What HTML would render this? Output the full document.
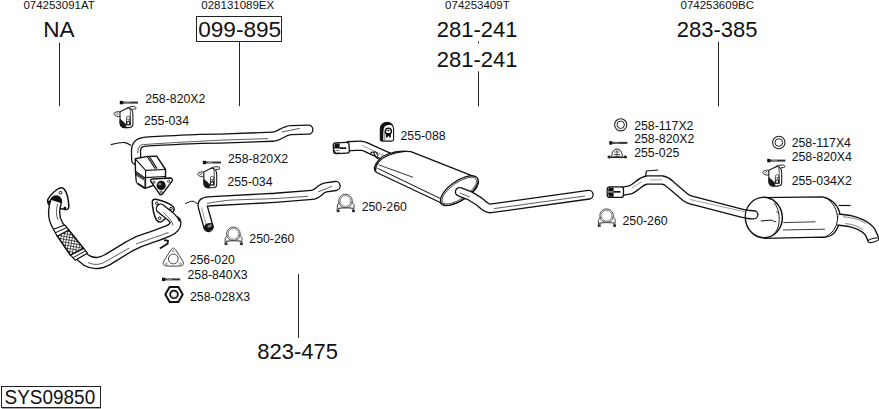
<!DOCTYPE html>
<html><head><meta charset="utf-8">
<style>
html,body{margin:0;padding:0;background:#fff;}
body{width:879px;height:409px;overflow:hidden;position:relative;}
svg{position:absolute;left:0;top:0;}
text{font-family:"Liberation Sans",sans-serif;fill:#111;}
.s{font-size:11.5px;}
.m{font-size:12.3px;}
.b{font-size:22px;}
</style></head><body>
<svg width="879" height="409" viewBox="0 0 879 409">
<defs>
<pattern id="hatch" width="2.8" height="2.8" patternUnits="userSpaceOnUse" patternTransform="rotate(10)">
<rect width="2.8" height="2.8" fill="#fff"/>
<line x1="0" y1="0" x2="0" y2="2.8" stroke="#111" stroke-width="1.3"/>
<line x1="0" y1="0" x2="2.8" y2="0" stroke="#111" stroke-width="1.3"/>
</pattern>
<g id="clamp" fill="none" stroke="#333" stroke-width="0.9">
<circle cx="9.4" cy="7" r="6.8" stroke-width="0.9"/>
<circle cx="9.4" cy="7" r="5.3" stroke-width="0.7" stroke="#555"/>
<path d="M3.6,8.8 C2.2,9.3 1.2,10.5 1.2,12 L1.2,16.8 M15.4,8.4 C16.8,8.8 18,10 18,11.5 L17.6,16.8 M1.8,14.8 C6,13.6 13,13.6 17.4,14.6"/>
<path d="M2,14.2 C6,13 13,13 17,14" stroke-width="0.6" stroke="#666"/>
<rect x="0.6" y="15.6" width="2.9" height="2.6" fill="#333" stroke="none"/>
<rect x="15.9" y="15.6" width="2.9" height="2.6" fill="#333" stroke="none"/>
</g>
<g id="bolt">
<rect x="0" y="-1.7" width="3.2" height="3.4" fill="#111"/>
<rect x="3" y="-1" width="15.2" height="2" fill="#333"/>
<rect x="5" y="-0.5" width="5" height="1" fill="#888"/>
</g>
<g id="hanger" fill="none" stroke="#1a1a1a" stroke-width="0.9" stroke-linejoin="round">
<path d="M3.4,11 C4.8,9 8,8.3 10.2,9.3 L10.2,13.6 C7.5,14.3 4.6,13.2 3.4,11 Z" fill="#fff"/>
<path d="M5.5,10.8 L7.5,11.8 M7,10 L8.2,10.6" stroke-width="0.7"/>
<path d="M9.8,9 L16.5,5.6 C18.5,4.6 20.8,6 21.8,7.5 C22.6,8.8 22.7,10 22.7,12 L22.7,21.5 C22.7,23.5 21,24.8 18.5,24.8 L14,24.8 C11.5,24.6 10,22.8 9.9,20.5 Z" fill="#fff" stroke-width="1.1"/>
<path d="M16.5,5.6 C18,4.3 21,3.6 23.5,3.7 C25,3.8 26.2,4.6 25.8,5.6 C25.3,6.5 23.5,6.4 22,6.4" stroke-width="1"/>
<path d="M19.8,6.2 C20.3,8 20.2,10 20.2,12 L20.2,22.5" stroke-width="0.8"/>
<path d="M9.9,16.5 L9.9,20.5 C10,22.8 11.5,24.6 14,24.8 L15.6,24.8 L15.6,21.5 C14,20 12,18 9.9,16.5 Z" fill="#1a1a1a"/>
<path d="M16.4,22.8 L16.4,15 C16.4,13.8 17.2,13.4 18.1,13.4 C19,13.4 19.9,13.8 19.9,15 L19.9,22.8" stroke-width="0.8"/>
<circle cx="18.1" cy="20.4" r="1.7" stroke-width="1.2"/>
<path d="M17,16 L18.5,17.5 L19.2,15.5" stroke-width="0.7"/>
</g>
<path id="fp" d="M56,201.5 C53.5,209 53,218 58,226 L78,252 C83,259 89,263.5 97,263 C101,262.9 104,261.5 108,259.4 L129.3,246.3 C136,242.5 142,240 149,238 L158.7,234.6 L168,231 C173.5,228.8 175.8,225.5 175.2,222.2"/>
<path id="fp2" d="M175.4,224.5 C175.4,220.5 171.5,216.8 167,213.6 L160.8,208.6"/>
<path id="tp" d="M136.2,160 L136,152 C135.8,145 139,142 146,141.6 C160,140.6 180,139.8 200,138.9 L220,138.6 L273,136.7 C280,136.3 283,130.6 291,130.1 L308.3,129.6"/>
<path id="sp" d="M208.5,227 L203,207.5 C201.5,202 205,201.5 212,201.2 L275,197.8 L312,194.9 C318,194.4 320,188.2 326,187.4 L335.6,186"/>
<path id="mp" d="M347,146.3 L360,145.6 C364,145.6 366,147 370,149 L390,158"/>
<path id="mt" d="M459.8,191.9 L469.5,195.6 L479.3,201.6 C483.5,205 486,208.6 490.5,208.4 L588.8,194.7"/>
<path id="rp" d="M622,191.4 L630,189.9 C636,188 640,181 647,180 L662.4,180 C666,180.5 668,182 671,185 L685,197 C688,199.5 690,200 694,200.8 L742,213.2 C747,214.4 750,214.8 753.8,214.8"/>
<path id="ri" d="M728,210 L743.7,215.8 L755.5,215.8"/>
<path id="tl" d="M838,219.5 L849.7,221 C854,222 857,223 860.5,224.6 C865,226.8 868,229 870,232 L873.6,239.5"/>
<clipPath id="capclip"><ellipse cx="763.8" cy="217.5" rx="18" ry="19.6" transform="rotate(-5 763.8 217.5)"/></clipPath>
</defs>

<g id="texts">
<text class="s" x="23.4" y="8.7">074253091AT</text>
<text class="s" x="201.3" y="8.7">028131089EX</text>
<text class="s" x="445.1" y="8.7">074253409T</text>
<text class="s" x="680.5" y="8.7">074253609BC</text>
<text class="b" x="43.3" y="36.8" style="font-size:22.6px">NA</text>
<text class="b" x="198.2" y="36.6" textLength="83" lengthAdjust="spacingAndGlyphs">099-895</text>
<text class="b" x="436.8" y="36.9">281-241</text>
<text class="b" x="436.8" y="66.5">281-241</text>
<text class="b" x="676.8" y="36.9">283-385</text>
<text class="b" x="257.2" y="358.9">823-475</text>
<text class="m" x="145.2" y="102.7">258-820X2</text>
<text class="m" x="143.9" y="125.3">255-034</text>
<text class="m" x="228" y="162.5">258-820X2</text>
<text class="m" x="227.4" y="186">255-034</text>
<text class="m" x="189.7" y="264">256-020</text>
<text class="m" x="187.5" y="279">258-840X3</text>
<text class="m" x="190" y="300.7">258-028X3</text>
<text class="m" x="249.3" y="242.8">250-260</text>
<text class="m" x="361.7" y="210.6">250-260</text>
<text class="m" x="400.5" y="139.8">255-088</text>
<text class="m" x="634.2" y="129.5">258-117X2</text>
<text class="m" x="634.2" y="143.3">258-820X2</text>
<text class="m" x="634.2" y="156.8">255-025</text>
<text class="m" x="791.7" y="146.9">258-117X4</text>
<text class="m" x="791.7" y="161">258-820X4</text>
<text class="m" x="791.7" y="184.6">255-034X2</text>
<text class="m" x="622.5" y="225.1">250-260</text>
<text style="font-size:19.6px" x="4.6" y="404" textLength="90.6" lengthAdjust="spacingAndGlyphs">SYS09850</text>
</g>
<g fill="none" stroke="#222" stroke-width="1">
<rect x="196.5" y="16.5" width="85" height="25"/>
<rect x="1.5" y="386.5" width="99" height="21"/>
<line x1="2" y1="408.5" x2="101" y2="408.5" stroke="#aaa"/>
<line x1="59.5" y1="42.7" x2="59.5" y2="106.2"/>
<line x1="239.5" y1="41.2" x2="239.5" y2="106.2"/>
<line x1="478.5" y1="71.3" x2="478.5" y2="106.3"/>
<line x1="718.5" y1="41.7" x2="718.5" y2="106.3"/>
<line x1="298.5" y1="274" x2="298.5" y2="338"/>
<line x1="478.5" y1="41.5" x2="478.5" y2="43.5"/>
</g>

<!-- ================= PIPES ================= -->
<g fill="none" stroke-linejoin="round">
<!-- front pipe -->
<!-- left flange -->
<path d="M47.6,201.5 C47,199 52,193 57,189.5 C60,187.5 63,187.5 64.5,189.5 C67,193 68.5,200 68.8,206 C69,208.8 67.5,210 65,209.5 L52,206.5 C49.2,205.6 47.9,203.8 47.6,201.5 Z" fill="#fff" stroke="#111" stroke-width="1.5"/>
<circle cx="60.5" cy="192.7" r="1.4" fill="#fff" stroke="#111" stroke-width="1"/>
<!-- right flange -->
<path d="M152.3,201.5 C152.5,199.5 154.5,199 157,199.6 C163,201 169,203.5 172.5,206 C174.8,207.8 174.5,210 173,211.8 L162.5,221 C160.5,222.5 158.2,222.2 156.5,220 C154,216 152.2,207 152.3,201.5 Z" fill="#fff" stroke="#111" stroke-width="1.5"/>
<circle cx="156.8" cy="203.3" r="1.3" fill="#fff" stroke="#111" stroke-width="1"/>
<circle cx="171" cy="208.6" r="1.3" fill="#fff" stroke="#111" stroke-width="1"/>
<use href="#fp" stroke="#111" stroke-width="12.4" stroke-linecap="round"/>
<use href="#fp2" stroke="#111" stroke-width="10.2" stroke-linecap="round"/>
<use href="#fp" stroke="#fff" stroke-width="9.7" stroke-linecap="butt"/>
<use href="#fp2" stroke="#fff" stroke-width="7.6" stroke-linecap="round"/>
<circle cx="49.2" cy="202" r="1.4" fill="#111"/>
<circle cx="64.9" cy="208.1" r="1.4" fill="#111"/>
<circle cx="159.7" cy="218.2" r="1.3" fill="#fff" stroke="#111" stroke-width="1"/>
<path d="M88,262.5 C93,265 99,265 104,262.5 L129.3,248 M136.2,244 C145,240.5 155,237.5 168.5,232.5 M172.8,225.5 C172.8,222 169,218 163.5,212.5 M57.5,204 C56,210 56,216 58,220" stroke="#333" stroke-width="0.8"/>
<!-- flex -->
<path d="M57.3,236.1 L68.6,229.8 L83.7,248.4 L70.5,255.2 Z" fill="url(#hatch)" stroke="#111" stroke-width="1.6"/>
<path d="M53.5,229.3 L64.7,225 L68.8,230 L57.2,236.3 Z" fill="#fff" stroke="#111" stroke-width="1.2"/>
<path d="M55.2,232.8 L66.8,227.6" stroke="#111" stroke-width="1"/>
<path d="M70.5,255.2 L83.7,248.4 L87.4,253.2 L75.2,260.2 Z" fill="#fff" stroke="#111" stroke-width="1.2"/>
<path d="M72.8,257.8 L85.5,250.8" stroke="#111" stroke-width="1"/>
<path d="M164,240.2 L168,240.6 L167.6,243.8 L159.8,248.6" stroke="#111" stroke-width="1.8"/>

<!-- top pipe 099-895 -->
<use href="#tp" stroke="#111" stroke-width="10.4" stroke-linecap="round"/>
<use href="#tp" stroke="#fff" stroke-width="7.8" stroke-linecap="round"/>
<path d="M137.8,153 C137.8,148 139.5,145 143.5,144.2" stroke="#222" stroke-width="0.8"/>
<path d="M143.5,144.6 C160,143.3 190,141.8 220,140.2 L268,138.6 M282,132 L300,128.3" stroke="#333" stroke-width="0.8"/>
<path d="M110.8,144.6 C116,143.3 122,142.2 125,142.6 C127.5,143 129,144 131,145.5" stroke="#111" stroke-width="1.1"/>
<!-- cat converter -->
<path d="M135.2,158.8 L147.8,156.4 L156.6,156.1 L165.5,169.5 L165.5,179 L152,186 L145.2,188.3 L136.5,182.5 L135.5,172 Z" fill="#fff" stroke="#111" stroke-width="1.4"/>
<path d="M135.2,158.8 L145.6,170.4 L165.5,169.5 M145.6,170.4 L145.6,188 M147.3,156.6 L155.2,168.8 M149.2,156.4 L157,168.6 M135.6,171.5 L144.8,177.6 L165,176.5 M136,173.5 L144.8,179.2" stroke="#111" stroke-width="1.1"/>
<path d="M136.5,182.5 L144.8,187.8 L144.8,180.5 L136,175 Z" fill="#fff" stroke="#111" stroke-width="0.8"/>
<path d="M137.5,183.5 L144.5,188" stroke="#111" stroke-width="1.6"/>
<path d="M150.6,181 C150.2,179.6 151.3,179 152.8,179 L170,178 C172.2,178 173,179.6 172,181.2 L162.8,193.6 C161.6,195.2 159.8,195 159.2,193.4 Z" fill="#fff" stroke="#111" stroke-width="1.4"/>
<circle cx="161.2" cy="185.4" r="4.6" fill="#111"/>
<circle cx="159.8" cy="184.2" r="1.4" fill="#888"/>
<circle cx="154" cy="182.3" r="1.1" fill="none" stroke="#111" stroke-width="0.8"/>
<circle cx="168.6" cy="181.3" r="1.1" fill="none" stroke="#111" stroke-width="0.8"/>
<circle cx="161.2" cy="192" r="1.1" fill="none" stroke="#111" stroke-width="0.8"/>

<!-- second pipe -->
<use href="#sp" stroke="#111" stroke-width="10.4" stroke-linecap="round"/>
<use href="#sp" stroke="#fff" stroke-width="7.8" stroke-linecap="round"/>
<path d="M207,203.5 C212,202.5 220,201 232,200 L275,198.6 L308,196.3 M318,192 L332,186.3" stroke="#333" stroke-width="0.8"/><path d="M201.6,207.5 L206.5,226" stroke="#555" stroke-width="0.6"/>
<ellipse cx="208.7" cy="227" rx="5" ry="3.8" transform="rotate(-25 208.7 227)" fill="#111"/>
<ellipse cx="209.5" cy="226" rx="2.5" ry="1.5" transform="rotate(-25 209.5 226)" fill="#888"/>
<path d="M185,203.7 C188,202.5 191,200.8 193,201.2 C195,202 196.5,204 199,203.5" stroke="#111" stroke-width="1"/>

<!-- middle inlet pipe -->
<use href="#mp" stroke="#111" stroke-width="10.4"/>
<use href="#mp" stroke="#fff" stroke-width="7.8"/>
<path d="M362,145.5 L385,156" stroke="#777" stroke-width="0.7"/>
<rect x="333.4" y="142.6" width="15.8" height="10.8" rx="2.5" fill="#fff" stroke="#111" stroke-width="1.3" transform="rotate(-3 341 148)"/>
<path d="M335.2,143.6 L339.6,143.4 L339.6,148.4 L334.2,148.6 C334.2,146.6 334.5,145 335.2,143.6 Z" fill="#111"/>
<path d="M334.4,150 C334.6,151.5 335,152.5 335.6,153.2 L339.6,153" stroke="#111" stroke-width="1.1"/>
<path d="M336,150.6 L339.5,150.5" stroke="#444" stroke-width="0.8"/>
<rect x="339.6" y="147.3" width="6.6" height="1.7" fill="#111"/>
<path d="M370.8,153.8 C371,152 372.5,151.6 373.6,152.4 L375,155.5 C375.8,157.5 376.8,158.3 378,158.6 M373.6,152.4 C374.8,151.5 376.5,152 377,153.5 L378.2,156" stroke="#111" stroke-width="1.2"/>
<!-- middle muffler -->
<path d="M374.4,167.4 C377,160 382,156 388,154 C394,151.5 402,150.2 410.9,151.7 L470.5,175.2 C476,177.5 479,180 478.3,183 C477,192 460,204 447.1,205.5 C444,205.8 441.5,204.5 440.2,202.5 L376.7,172.5 C375,171.5 374.2,169.5 374.4,167.4 Z" fill="#fff" stroke="#111" stroke-width="1.3"/>
<path d="M375.6,170.5 C375.2,164 381,158.5 389,155 C395,152.5 400,151.6 405,151.3" stroke="#111" stroke-width="1.3"/>
<path d="M378.6,164.8 L413,177.3" stroke="#222" stroke-width="0.9"/>
<path d="M377.6,168.3 L440.5,198.6" stroke="#111" stroke-width="1"/>
<ellipse cx="459.3" cy="190.6" rx="22" ry="9.5" transform="rotate(-35 459.3 190.6)" fill="#fff" stroke="#111" stroke-width="1.3"/>
<ellipse cx="459.3" cy="190.6" rx="20.3" ry="8" transform="rotate(-35 459.3 190.6)" fill="none" stroke="#111" stroke-width="0.7"/>
<!-- middle tail pipe -->
<use href="#mt" stroke="#111" stroke-width="10" stroke-linecap="round"/>
<use href="#mt" stroke="#fff" stroke-width="7.4" stroke-linecap="round"/>
<path d="M459.8,192.9 L470,197.2 M494,208.6 L585,196" stroke="#333" stroke-width="0.8"/>

<!-- rear inlet -->
<use href="#rp" stroke="#111" stroke-width="9.4" stroke-linecap="round"/>
<use href="#rp" stroke="#fff" stroke-width="6.8" stroke-linecap="round"/>
<path d="M632,188 L642,181.5 M650,179.8 L662,179.8 M690,199.5 L750,213" stroke="#777" stroke-width="0.7"/>
<rect x="607.2" y="186.8" width="16.3" height="10.6" rx="2.5" fill="#fff" stroke="#111" stroke-width="1.3"/>
<path d="M609,187.5 L613.6,187.5 L613.6,196.7 L609,196.7 C607.7,194 607.7,190 609,187.5 Z" fill="#111"/>
<rect x="607.6" y="191.3" width="6" height="1.2" fill="#bbb"/>
<rect x="613.6" y="191" width="6.8" height="1.7" fill="#111"/>
<path d="M645.5,177 L646.4,171 L658.2,170" stroke="#111" stroke-width="1.2"/>

<!-- rear muffler -->
<path d="M762.5,197.6 L822.4,196.8 C830,198 837,204 839.5,212 C841,221 838,231 831,235.5 C828,237 825,237.4 822.4,237.2 L764.2,238.4 Z" fill="#fff" stroke="#111" stroke-width="1.3"/>
<path d="M825,197.5 C833,201 837.5,211 837.5,218 C837.5,227 832,234 825,237" stroke="#111" stroke-width="1"/>
<ellipse cx="763.8" cy="217.5" rx="18.5" ry="20.2" transform="rotate(-5 763.8 217.5)" fill="#fff" stroke="#111" stroke-width="1.4"/>
<path d="M774.2,203 C778.5,208 779.6,215 779.1,222 C778.6,228 776.3,232.5 772.3,235.3" stroke="#111" stroke-width="0.9"/>
<path d="M776.5,211 L779,214" stroke="#111" stroke-width="0.8"/>
<path d="M783.5,222.6 L815.5,221.8 M783,230 L825,229.2" stroke="#222" stroke-width="0.9"/>
<path d="M760.8,221 L771,220.1 C773,220.5 774,221.8 776.2,221.8" stroke="#111" stroke-width="1"/>
<path d="M838.6,205.5 L850.6,205.5" stroke="#111" stroke-width="1.2"/>
<g clip-path="url(#capclip)">
<use href="#rp" stroke="#111" stroke-width="9.4" stroke-linecap="round"/>
<use href="#rp" stroke="#fff" stroke-width="6.8" stroke-linecap="round"/>
</g>
<!-- tail -->
<use href="#tl" stroke="#111" stroke-width="12.4"/>
<use href="#tl" stroke="#fff" stroke-width="9.8"/>
<path d="M843,216.8 L850,217.6 C856,218.6 861,220.5 866,223.5 M845,223.5 L850,224.2 C855,225.2 859,227 863,230" stroke="#555" stroke-width="0.7"/>
<ellipse cx="873.4" cy="240.2" rx="5.6" ry="1.8" transform="rotate(-15 873.4 240.2)" fill="#fff" stroke="#111" stroke-width="1.1"/>
</g>

<!-- ================= SMALL PARTS ================= -->
<use href="#bolt" x="119.8" y="102.6"/>
<use href="#hanger" x="110.2" y="102.8"/>
<use href="#bolt" x="202.8" y="162.5"/>
<use href="#hanger" x="194" y="163"/>
<use href="#bolt" x="162" y="279.4"/>
<use href="#bolt" x="609.2" y="142.9"/>
<use href="#bolt" x="767.2" y="160.6"/>
<use href="#hanger" x="759" y="161.3"/>
<use href="#clamp" x="224" y="226.9"/>
<use href="#clamp" x="336.1" y="194"/>
<use href="#clamp" x="597.2" y="208.7"/>
<!-- gasket -->
<g transform="translate(0,1.4)">
<path d="M171.3,248 C172.5,246.3 174.3,246.3 175.4,248 C178,252 181,256.5 183.2,260.5 C184.2,262.6 183,264.4 180.8,264.5 C175.8,264.9 170.8,264.9 165.8,264.5 C163.6,264.4 162.5,262.6 163.5,260.5 C165.6,256.3 168.6,252 171.3,248 Z" fill="#fff" stroke="#444" stroke-width="1"/>
<circle cx="173.3" cy="257.6" r="4.9" fill="#fff" stroke="#444" stroke-width="1"/>
<circle cx="173.3" cy="249.3" r="0.9" fill="none" stroke="#555" stroke-width="0.6"/>
<circle cx="166.4" cy="262.5" r="0.9" fill="none" stroke="#555" stroke-width="0.6"/>
<circle cx="180.3" cy="262.5" r="0.9" fill="none" stroke="#555" stroke-width="0.6"/>
</g>
<!-- nut -->
<path d="M169.6,287 L178.4,287 L182.7,294.5 L178.4,302 L169.6,302 L165.3,294.5 Z" fill="#fff" stroke="#111" stroke-width="2" stroke-linejoin="round"/>
<circle cx="174" cy="294.4" r="4.7" fill="#111"/>
<circle cx="174" cy="294.4" r="3" fill="#fff"/>
<circle cx="174" cy="294.4" r="2.4" fill="none" stroke="#999" stroke-width="0.5"/>
<!-- washers -->
<circle cx="620.7" cy="124.8" r="6.1" fill="none" stroke="#222" stroke-width="1.1"/>
<circle cx="620.7" cy="124.8" r="3.7" fill="none" stroke="#222" stroke-width="1"/>
<circle cx="778.8" cy="142.5" r="6.2" fill="none" stroke="#222" stroke-width="1.1"/>
<circle cx="778.8" cy="142.5" r="3.8" fill="none" stroke="#222" stroke-width="1"/>
<!-- bracket 255-025 -->
<path d="M611.8,156.5 C611.8,152 614,149 617,149 C620,149 622.3,152 622.3,156.5" fill="#fff" stroke="#222" stroke-width="1"/>
<path d="M607.5,157.3 L627,157.3" stroke="#222" stroke-width="1.5"/>
<circle cx="609.3" cy="157" r="1.4" fill="#222"/>
<circle cx="625.2" cy="157" r="1.4" fill="#222"/>
<path d="M614.5,152 L619.5,152 M614,154.5 L620,154.5 M617,150 L617,156.5 M613.5,156.3 L620.5,156.3" stroke="#333" stroke-width="0.8"/>
<!-- hanger 255-088 -->
<path d="M380.3,139 L380.3,129 C380.3,124.5 384,122.3 387,122.3 C391,122.3 393.6,125.5 393.6,129 L393.6,139.5 C393.6,140.6 392.6,141.1 391.5,141.1 L382.5,141.1 C381,141.1 380.3,140.2 380.3,139 Z" fill="#fff" stroke="#111" stroke-width="1.1"/>
<path d="M380.3,139 L380.3,129 C380.3,124.5 384,122.3 387,122.3 C390,122.3 392.3,123.8 393.2,126 C391,124.6 386.5,124.4 384.6,126.8 C383.2,128.8 383.3,134 383.3,141 L382.5,141 C381,141 380.3,140.2 380.3,139 Z" fill="#111"/>
<path d="M384.8,140.6 L384.8,131" fill="none" stroke="#333" stroke-width="0.7"/>
<circle cx="388.4" cy="131.3" r="3" fill="#fff" stroke="#111" stroke-width="1.4"/>
<path d="M386,133 L386,137.4 L387.4,137.4 L388.4,135.6 L389.4,137.4 L390.8,137.4 L390.8,133 Z" fill="#111"/>
<path d="M387.4,130.6 L389.4,130.6" stroke="#111" stroke-width="1.2"/>
</svg>
</body></html>
